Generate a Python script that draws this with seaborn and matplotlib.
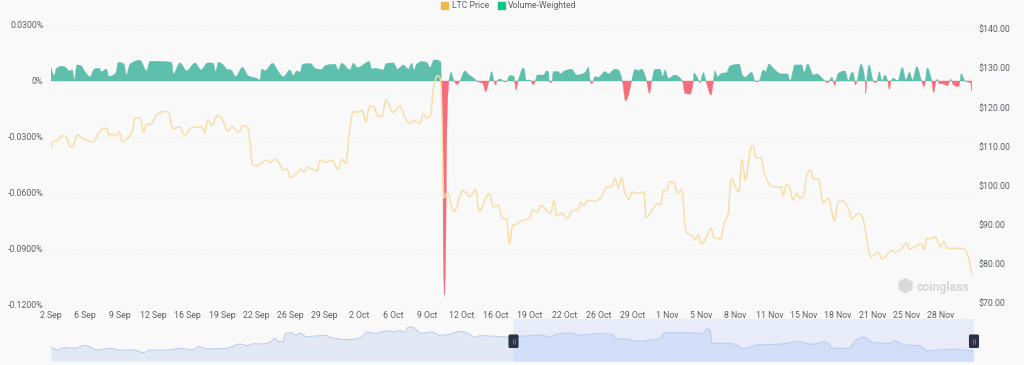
import numpy as np
import pandas as pd
import seaborn as sns
import matplotlib.pyplot as plt
from matplotlib.patches import FancyBboxPatch, Patch, Rectangle

# days counted from 2 Sep
price_days = [0, 0.22, 0.68, 1.04, 1.36, 1.95, 2.17, 2.56, 3.15, 4.12, 4.61, 5.10, 5.43, 5.65, 5.92, 6.31, 6.63, 6.95, 7.38, 7.92,
              8.19, 8.58, 8.77, 9.0, 9.23, 9.75, 10.3, 10.97, 11.43, 11.86, 12.57, 12.99, 13.71, 14.69, 15.01, 15.27, 15.66, 16.25, 16.64, 17.22,
              17.61, 18.33, 18.65, 19.1, 19.4, 19.62, 20.05, 21.03, 21.35, 21.83, 22.1, 22.64, 23.03, 23.29, 23.95, 24.34, 24.66, 24.98, 25.9, 26.29,
              26.71, 27.36, 28.0, 28.33, 28.75, 28.98, 29.46, 29.95, 30.34, 30.68, 31.02, 31.41, 31.9, 32.26, 32.65, 33.36, 34.02, 34.41, 34.99, 35.31,
              35.96, 36.29, 36.62, 36.94, 37.33, 37.65, 37.98, 38.3, 38.63, 39.28, 40.13, 40.84, 41.39, 41.72, 42.72, 43.11, 43.6, 43.99, 44.41, 44.69,
              44.98, 45.39, 45.71, 46.69, 46.95, 47.4, 47.73, 48.7, 49.03, 49.29, 49.78, 50.32, 50.81, 51.39, 51.63, 51.88, 52.37, 53.02, 53.67, 54.16,
              54.65, 54.97, 55.29, 55.62, 55.95, 56.34, 56.66, 57.09, 57.8, 57.99, 58.7, 59.03, 59.42, 59.68, 60.01, 60.26, 60.65, 61.08, 61.47, 61.89,
              62.45, 62.77, 63.09, 63.42, 63.91, 64.33, 64.62, 65.27, 65.62, 66.01, 66.27, 67.06, 67.32, 67.69, 68.05, 68.29, 68.47, 68.68, 69.17, 69.59,
              70.18, 70.89, 71.15, 71.37, 71.64, 71.93, 72.35, 72.68, 73.0, 73.33, 73.66, 74.05, 74.3, 74.79, 75.28, 75.76, 76.35, 76.74, 77.13, 77.71,
              78.04, 78.69, 79.05, 79.92, 80.63, 81.02, 81.94, 82.33, 82.91, 83.33, 83.72, 84.21, 84.86, 85.12, 85.35, 85.67, 86.16, 86.71, 87.04, 87.36,
              88.11, 89.09, 89.41, 89.74]
price_values = [109.5, 111.4, 111.6, 112.7, 112.7, 109.8, 110.2, 112.9, 111.9, 111.2, 113.4, 114.6, 114.6, 112.8, 113.2, 112.7, 113.8, 111.2, 111.9, 113.9,
                117.2, 117.3, 116.8, 113.6, 115.5, 115.7, 118, 118.9, 118.9, 114.6, 114.9, 112.9, 114.8, 115, 113.6, 116.8, 115.3, 117.9, 117.2, 113.9,
                115, 113.6, 115.2, 115.2, 111.2, 105.4, 105, 106.5, 105.9, 106.7, 106.3, 104, 104.2, 102.1, 103.1, 104.2, 103.5, 104.6, 103.8, 106.5,
                105.9, 106.5, 104.2, 106.7, 105.7, 111.2, 118.9, 118.7, 119.3, 116.3, 120.2, 120.3, 117.6, 117.8, 121.9, 118.7, 120.3, 117.9, 115.9, 116.6,
                115.9, 118.3, 117.2, 117.6, 125.7, 128.1, 127.2, 96.8, 98.2, 93.3, 98.7, 97.2, 99.1, 93.5, 98, 94.6, 95, 91.6, 91.5, 85.1,
                89.8, 90.2, 90.8, 91.8, 93.8, 93.2, 94.9, 92.9, 96.1, 92.3, 92.9, 91.6, 93.6, 93.8, 95.7, 94.9, 96.3, 96, 97.2, 99.7,
                99.7, 101.9, 99.3, 102.1, 98, 96.5, 98.4, 98, 98.4, 91.9, 94.2, 95.3, 95.2, 98.7, 98.7, 101, 101, 98.2, 99, 88.2,
                87.2, 86.1, 87.4, 85.1, 86.9, 89.1, 86.7, 86.4, 90.4, 92.9, 101.7, 98.4, 106.7, 101.4, 107.4, 110.1, 110, 107.1, 107.1, 102.7,
                99.9, 99.5, 99.7, 97.4, 100.3, 99.9, 96.3, 98, 96.8, 97.2, 102.7, 104, 101.6, 101.7, 95.6, 96.8, 91, 95.9, 96.1, 94.2,
                91.5, 92.9, 92.2, 81.8, 83, 81.2, 83.4, 83, 83.8, 85.3, 83.8, 84.4, 85.1, 83.7, 86.5, 86.4, 86.9, 84.4, 85.7, 84,
                84, 83.7, 81.8, 77.4]

fund_days = [0, 0.29, 0.55, 1.04, 1.43, 1.75, 2.08, 2.27, 2.53, 2.92, 3.31, 3.80, 4.22, 4.68, 4.94, 5.39, 5.65, 6.30, 6.56, 7.12,
             7.34, 7.70, 8.67, 9.32, 9.65, 11.76, 11.92, 12.57, 13.22, 14.04, 14.62, 15.27, 15.82, 16.05, 16.31, 16.8, 17.12, 17.54, 18.0, 18.65,
             19.23, 20.05, 20.37, 20.53, 20.86, 21.6, 22.16, 22.64, 23.29, 23.62, 23.94, 24.27, 24.53, 25.31, 25.73, 26.38, 26.7, 27.68, 28.0, 28.33,
             29.14, 29.46, 29.86, 31.03, 31.25, 31.58, 32.39, 32.65, 33.37, 33.79, 34.34, 34.83, 35.15, 35.38, 35.64, 36.13, 36.62, 36.94, 37.33, 38.01,
             38.03, 38.05, 38.18, 38.24, 38.35, 38.47, 38.57, 38.72, 38.78, 38.95, 38.99, 39.28, 39.6, 39.86, 40.35, 40.68, 41.3, 41.5, 41.81, 42.07,
             42.37, 42.63, 42.7, 42.95, 43.18, 43.34, 43.47, 43.76, 44.05, 44.25, 44.44, 44.64, 44.74, 45.13, 45.19, 45.32, 45.52, 45.71, 45.97, 46.13,
             46.3, 46.69, 47.01, 47.2, 47.4, 47.99, 48.31, 48.47, 48.57, 48.7, 48.83, 48.96, 49.45, 49.61, 50.1, 50.75, 51.23, 52.05, 52.37, 52.57,
             52.7, 52.83, 53.02, 53.35, 54.0, 54.32, 54.97, 55.3, 55.69, 56.01, 56.33, 56.59, 56.92, 57.24, 57.57, 58.06, 58.32, 58.55, 58.87, 59.36,
             59.62, 59.85, 60.17, 60.8, 61.54, 61.8, 62.28, 62.61, 62.66, 62.99, 63.25, 63.58, 63.84, 64.33, 64.56, 64.72, 64.95, 65.37, 65.86, 66.18,
             67.09, 67.38, 67.64, 68.29, 68.62, 68.78, 69.0, 69.43, 69.66, 69.98, 70.4, 71.15, 71.8, 72.03, 72.51, 73.17, 73.4, 73.75, 74.3, 74.63,
             75.44, 75.7, 75.85, 76.09, 76.25, 76.38, 76.51, 76.74, 77.39, 77.71, 78.04, 78.2, 78.4, 78.56, 78.95, 79.34, 79.41, 79.5, 79.73, 80.15,
             80.38, 80.5, 80.74, 80.97, 81.29, 81.55, 81.71, 81.87, 82.1, 82.52, 82.98, 83.33, 83.66, 83.98, 84.37, 84.86, 85.09, 85.22, 85.41, 85.84,
             86.03, 86.26, 86.39, 86.55, 86.97, 87.36, 87.72, 87.95, 88.44, 88.6, 88.7, 89.09, 89.67, 89.74]
fund_values = [.0072, .0029, .0068, .0079, .0073, .0054, .0059, .0005, .0086, .0082, .0050, .0023, .0064, .0068, .0050, .0064, .0025, .0041, .0100, .0091,
               .0032, .0090, .0111, .0054, .0106, .0100, .0038, .0097, .0054, .0097, .0059, .0097, .0095, .0050, .0100, .0086, .0063, .0059, .0023, .0073,
               .0027, .0014, .0005, .0064, .0055, .0095, .0050, .0023, .0059, .0029, .0054, .0047, .0090, .0093, .0068, .0061, .0082, .0090, .0059, .0095,
               .0059, .0095, .0072, .0104, .0064, .0068, .0059, .0093, .0097, .0063, .0086, .0064, .0095, .0059, .0090, .0104, .0100, .0072, .0113, .0100,
               0, -.004, -.029, -.09, -.1147, -.09, -.029, -.004, 0, .0041, .0047, 0, -.0018, 0, .0054, .0036, .0011, 0, -.0007, -.0011,
               -.0057, -.0013, 0, .0050, 0, -.0022, 0, .0011, .0002, -.0004, 0, .0025, .0029, .0023, 0, -.0048, 0, .0032, .0068, .0064,
               .0005, .0005, -.002, 0, .0032, .0032, .0054, .005, 0, -.0009, 0, .005, .005, .0038, .0055, .0063, .0032, .0045, .0073, 0,
               -.0016, 0, .0023, .002, .005, .0038, .0063, .0059, 0, -.0107, -.0066, 0, .0063, .0055, .0063, 0, -.0066, 0, .0063, .0063,
               .0023, .0059, .0014, .0032, 0, -.0066, -.007, 0, .0041, .002, -.0009, .0045, 0, -.0075, 0, .0054, .0023, .0041, .0045, .0081,
               .0090, .0032, .002, .0047, 0, -.0005, 0, .0059, .005, .0091, .0068, .0038, .0038, 0, .0086, .0086, .0045, .0091, .0032, .0038,
               0, -.0009, 0, .002, 0, -.0025, 0, .0041, .0054, 0, .0045, .0045, -.0021, 0, .009, 0, -.0066, 0, .0086, 0,
               -.0009, 0, .005, 0, .0032, 0, -.0045, 0, .0014, 0, .0073, .0005, .0047, .0005, .0077, 0, -.003, 0, .007, 0,
               -.0063, 0, .0009, -.0013, -.0016, -.0025, .0009, -.0021, -.003, 0, .0038, 0, -.0013, -.0052]

overview_days = [0, .71, 1.2, 2.34, 3.31, 4.45, 5.91, 6.56, 8.02, 9.0, 9.65, 11.6, 12.57, 13.87, 14.36, 15.17, 17.12, 18.42, 19.07, 19.72,
                 20.53, 21.35, 21.83, 22.16, 22.64, 22.81, 23.46, 23.78, 24.27, 24.92, 26.71, 27.19, 28.82, 30.28, 30.77, 31.58, 32.88, 33.2, 34.02, 34.5,
                 34.83, 35.32, 36.13, 37.1, 37.91, 38.89, 39.86, 40.51, 41.33, 41.81, 44.74, 46.23, 47.53, 48.67, 49.32, 50.62, 51.43, 53.38, 54.84, 55.0,
                 56.14, 56.95, 59.23, 59.88, 62.15, 63.45, 63.94, 64.2, 64.43, 65.73, 66.54, 67.51, 68.81, 70.92, 72.87, 74.17, 75.47, 76.28, 77.75, 78.39,
                 79.21, 80.18, 81.8, 82.13, 83.27, 84.57, 85.38, 87.81, 89.93]
overview_values = [41, 33, 40, 38, 47, 33, 38, 33, 33, 25, 33, 33, 38, 33, 43, 36, 38, 51, 46, 52,
                   51, 56, 68, 58, 59, 81, 85, 78, 83, 73, 77, 71, 64, 71, 87, 83, 91, 87, 91, 86,
                   102, 100, 83, 87, 77, 80, 89, 85, 71, 76, 72, 75, 78, 73, 81, 84, 78, 82, 78, 66,
                   66, 60, 66, 85, 85, 81, 96, 93, 53, 53, 51, 37, 48, 50, 58, 50, 58, 38, 38, 61,
                   71, 55, 53, 61, 48, 46, 31, 35, 30]

date_labels = ["2 Sep", "6 Sep", "9 Sep", "12 Sep", "16 Sep", "19 Sep", "22 Sep", "26 Sep", "29 Sep",
               "2 Oct", "6 Oct", "9 Oct", "12 Oct", "16 Oct", "19 Oct", "22 Oct", "26 Oct", "29 Oct",
               "1 Nov", "5 Nov", "8 Nov", "11 Nov", "15 Nov", "18 Nov", "21 Nov", "25 Nov", "28 Nov"]
left_ticks = [0.03, 0, -0.03, -0.06, -0.09, -0.12]
left_labels = ["0.0300%", "0%", "-0.0300%", "-0.0600%", "-0.0900%", "-0.1200%"]
right_ticks = [140, 130, 120, 110, 100, 90, 80, 70]

W, H = 1024, 365
BG = "#f9f9f9"
GREEN = "#5dbfac"
RED = "#f76d7a"
TXT = "#5c6066"

sns.set_theme(style="white", rc={"figure.facecolor": BG, "axes.facecolor": BG, "savefig.facecolor": BG})
plt.rcParams["font.family"] = ["Roboto", "DejaVu Sans"]


def px_axes(fig, x0, x1, y_top, y_bot):
    return fig.add_axes([x0 / W, 1 - y_bot / H, (x1 - x0) / W, (y_bot - y_top) / H])


def smooth_shape(xs, ys, n=6):
    # the original draws rounded lines, so bend between the read values (monotone, no overshoot)
    xs = np.asarray(xs, float)
    ys = np.asarray(ys, float)
    h = np.diff(xs)
    d = np.diff(ys) / h
    m = np.zeros(len(xs))
    same = d[:-1] * d[1:] > 0
    w1 = 2 * h[1:] + h[:-1]
    w2 = h[1:] + 2 * h[:-1]
    m[1:-1][same] = (w1[same] + w2[same]) / (w1[same] / d[:-1][same] + w2[same] / d[1:][same])
    m[0], m[-1] = d[0], d[-1]
    t = np.linspace(0, 1, n, endpoint=False)[None, :]
    h2 = h[:, None]
    a, b = ys[:-1, None], ys[1:, None]
    ma, mb = m[:-1, None], m[1:, None]
    yy = (2 * t**3 - 3 * t**2 + 1) * a + (t**3 - 2 * t**2 + t) * h2 * ma + (-2 * t**3 + 3 * t**2) * b + (t**3 - t**2) * h2 * mb
    xx = xs[:-1, None] + t * h2
    return np.append(xx.ravel(), xs[-1]), np.append(yy.ravel(), ys[-1])


fig = plt.figure(figsize=(W / 100, H / 100), dpi=100)

# main chart
ax = px_axes(fig, 51, 974, 25, 305)
x, v = smooth_shape(fund_days, fund_values)
ax.fill_between(x, v, 0, where=v >= 0, interpolate=True, color=GREEN, lw=0.3)
ax.fill_between(x, v, 0, where=v <= 0, interpolate=True, color=RED, lw=0.3)
ax.set_xlim(0, 923 / 10.26)
ax.set_ylim(-0.12, 0.03)
ax.set_yticks(left_ticks)
ax.set_yticklabels(left_labels)
ax.set_xticks(np.arange(len(date_labels)) * 34.22 / 10.26)
ax.set_xticklabels(date_labels)
ax.set_xlabel("")
ax.set_ylabel("")
ax.tick_params(axis="both", length=0, labelsize=6.3, labelcolor=TXT)
ax.tick_params(axis="y", pad=5.5)
ax.tick_params(axis="x", pad=4)
ax.grid(axis="y", color="#f3f3f3", lw=0.7, ls=(0, (2, 1)))
ax.set_axisbelow(True)
sns.despine(ax=ax, left=True, bottom=True)

# price on right axis
ax2 = ax.twinx()
px, py = smooth_shape(price_days, price_values)
price = pd.DataFrame({"day": px, "price": py})
sns.lineplot(data=price, x="day", y="price", ax=ax2, color="#f8dda6", lw=1.05, errorbar=None)
ax2.set_ylim(70 - 2 / 3.914, 140 + 4 / 3.914)
ax2.set_yticks(right_ticks)
ax2.set_yticklabels([f"${t}.00" for t in right_ticks])
ax2.set_xlabel("")
ax2.set_ylabel("")
ax2.tick_params(axis="y", length=0, labelsize=6.3, labelcolor=TXT, pad=3)
ax2.grid(False)
sns.despine(ax=ax2, left=True, right=True, bottom=True)

# watermark
fig.text(917 / W, 1 - 287 / H, "coinglass", color="#d6d6d6", fontsize=8.8, fontweight="bold", va="center", ha="left")
fig.text(905 / W, 1 - 286 / H, "\u2b22", color="#d9d9d9", fontsize=14, va="center", ha="center", family="DejaVu Sans")

# legend
handles = [Patch(color="#edb94f", label="LTC Price"), Patch(color="#14c488", label="Volume-Weighted")]
fig.legend(handles=handles, loc="center", bbox_to_anchor=(509 / W, 1 - 6 / H), ncol=2, frameon=False,
           fontsize=6.2, labelcolor=TXT, handlelength=0.8, handleheight=0.8, handletextpad=0.4, columnspacing=1.0,
           borderpad=0, borderaxespad=0)

# range slider
ov = px_axes(fig, 51, 974, 319, 361)
ox, oy = smooth_shape(overview_days, overview_values)
ov_df = pd.DataFrame({"day": ox, "value": oy})
split = 462 / 10.26
ov.axvspan(split, 923 / 10.26, color="#e8ecf8", lw=0)
ov.fill_between(ox, oy, 0, color="#e3e8f5", lw=0)
sel = ov.fill_between(ox, oy, 0, color="#d3def9", lw=0)
sel.set_clip_path(Rectangle((split, 0), 923 / 10.26 - split, 126, transform=ov.transData))
sns.lineplot(data=ov_df, x="day", y="value", ax=ov, color="#bccdee", lw=0.8, errorbar=None)
ov.set_xlim(0, 923 / 10.26)
ov.set_ylim(0, 126)
ov.axis("off")

for cx in (513.5, 974):
    fig.add_artist(FancyBboxPatch(((cx - 3.5) / W, 1 - 346.5 / H), 7 / W, 10.5 / H, boxstyle="round,pad=0.0015",
                                  transform=fig.transFigure, fc="#2b3044", ec="none", mutation_aspect=W / H))
    for dx in (-1, 1):
        fig.add_artist(plt.Line2D([(cx + dx) / W] * 2, [1 - 339 / H, 1 - 344 / H], color="#8a8fa0", lw=0.5))

fig.savefig("out.png", dpi=100)
